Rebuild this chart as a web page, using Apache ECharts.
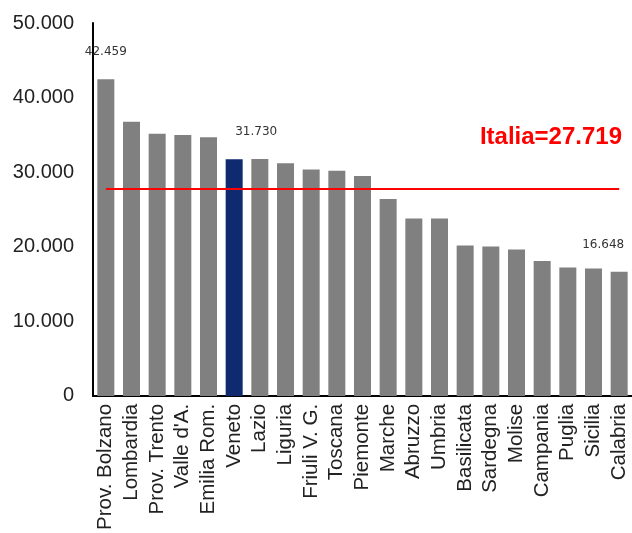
<!DOCTYPE html>
<html>
<head>
<meta charset="utf-8">
<script src="https://cdn.jsdelivr.net/npm/echarts@6/dist/echarts.min.js"></script>
<style>
html,body{margin:0;padding:0;background:#fff;}
#chart{width:632px;height:533px;}
</style>
</head>
<body>
<div id="chart"></div>
<script>
const categories = ["Prov. Bolzano","Lombardia","Prov. Trento","Valle d'A.","Emilia Rom.","Veneto","Lazio","Liguria","Friuli V. G.","Toscana","Piemonte","Marche","Abruzzo","Umbria","Basilicata","Sardegna","Molise","Campania","Puglia","Sicilia","Calabria"];
const values = [42459,36750,35150,34970,34670,31730,31780,31200,30350,30200,29470,26400,23800,23800,20170,20040,19640,18090,17200,17070,16648];
const italia = 27719;
const highlighted = "Veneto";
const labelledBars = {"Prov. Bolzano":[0,0], "Veneto":[22,0], "Calabria":[-16,0]};
const yTicks = [0,10000,20000,30000,40000,50000];

function fmt(v){ return String(v).replace(/\B(?=(\d{3})+(?!\d))/g,'.'); }

const data = values.map((v,i)=>{
  const name = categories[i];
  const item = {value:v, itemStyle:{color: name===highlighted ? '#0f2a6e' : '#808080'}};
  if (labelledBars[name]) {
    item.label = {show:true, position:'top', distance:21, offset:labelledBars[name],
      formatter: p=>fmt(p.value), fontFamily:'DejaVu Sans', fontSize:12, color:'#333'};
  }
  return item;
});

const chart = echarts.init(document.getElementById('chart'), null, {renderer:'canvas'});
chart.setOption({
  animation:false,
  grid:{left:93, top:23, bottom:135, width:541, containLabel:false},
  xAxis:{type:'category', data:categories, boundaryGap:true,
    axisLine:{lineStyle:{color:'#000', width:2}},
    axisTick:{show:false},
    axisLabel:{rotate:90, interval:0, margin:8, fontFamily:'Liberation Sans, Arial', fontSize:20.5, color:'#222'}},
  yAxis:{type:'value', min:yTicks[0], max:yTicks[yTicks.length-1], interval:yTicks[1]-yTicks[0],
    splitLine:{show:false},
    axisLine:{show:true, lineStyle:{color:'#000', width:2}},
    axisTick:{show:false},
    axisLabel:{margin:19, fontFamily:'Liberation Sans, Arial', fontSize:20, color:'#222', formatter: v=>fmt(v)}},
  series:[{type:'bar', data:data, barWidth:17,
    markLine:{silent:true, symbol:['none','none'], label:{show:false},
      lineStyle:{color:'#ff0000', width:2, type:'solid'},
      data:[[{coord:[categories[0], italia]},{coord:[categories[categories.length-1], italia]}]]}}],
  graphic:[{type:'text', right:10, top:125,
    style:{text:'Italia='+fmt(italia), font:'bold 24px "Liberation Sans", Arial', fill:'#ff0000'}}]
});
</script>
</body>
</html>
